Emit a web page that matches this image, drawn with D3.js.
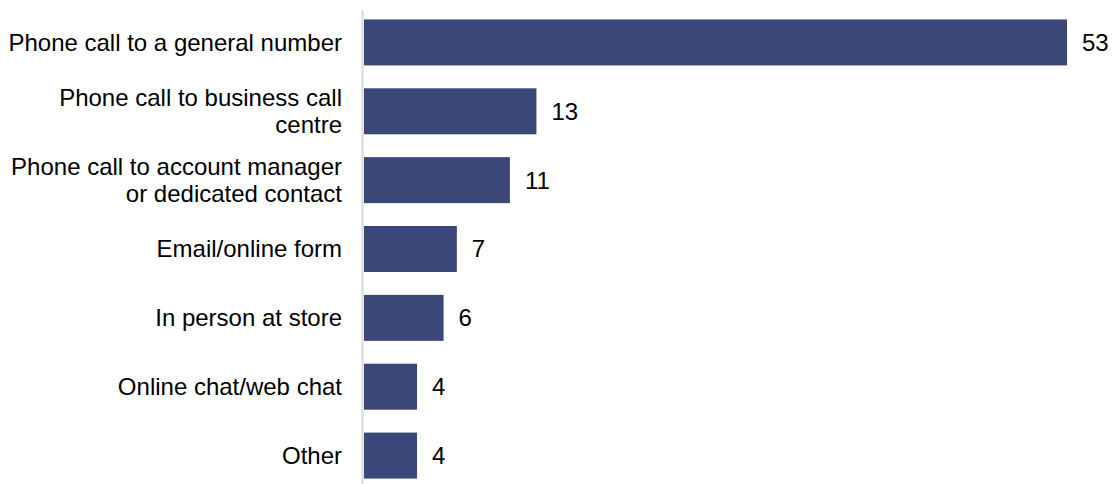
<!DOCTYPE html>
<html>
<head>
<meta charset="utf-8">
<script src="https://cdn.jsdelivr.net/npm/d3@7"></script>
<style>
  html, body { margin: 0; padding: 0; background: #fff; }
  svg { display: block; }
  text { font-family: Arial, "Liberation Sans", sans-serif; fill: #000; }
</style>
</head>
<body>
<svg id="chart" width="1113" height="484"></svg>
<script>
const categories = [
  ["Phone call to a general number"],
  ["Phone call to business call", "centre"],
  ["Phone call to account manager", "or dedicated contact"],
  ["Email/online form"],
  ["In person at store"],
  ["Online chat/web chat"],
  ["Other"]
];
const values = [53, 13, 11, 7, 6, 4, 4];
const ids = categories.map((c, i) => i);

const svg = d3.select("#chart");
const x0 = 364;
const x = d3.scaleLinear().domain([0, 53]).range([x0, 1067]);
const y = d3.scaleBand().domain(ids).range([8, 490]).paddingInner(0.332).paddingOuter(0.166);

// axis line
svg.append("line")
  .attr("x1", 362.5).attr("x2", 362.5)
  .attr("y1", 10).attr("y2", 484)
  .attr("stroke", "#d9d9d9").attr("stroke-width", 2);

svg.selectAll("rect.bar").data(values).join("rect")
  .attr("class", "bar")
  .attr("x", x(0))
  .attr("y", (d, i) => y(i))
  .attr("width", d => x(d) - x(0))
  .attr("height", y.bandwidth())
  .attr("fill", "#3b4679");

svg.selectAll("text.val").data(values).join("text")
  .attr("class", "val")
  .attr("x", d => x(d) + 15)
  .attr("y", (d, i) => y(i) + y.bandwidth() / 2)
  .attr("dy", "0.35em")
  .attr("font-size", 24)
  .text(d => d);

const lh = 27;
categories.forEach((lines, i) => {
  const cy = y(i) + y.bandwidth() / 2;
  const t = svg.append("text")
    .attr("text-anchor", "end")
    .attr("font-size", 24);
  lines.forEach((ln, j) => {
    t.append("tspan")
      .attr("x", 342)
      .attr("y", cy + (j - (lines.length - 1) / 2) * lh)
      .attr("dy", "0.35em")
      .text(ln);
  });
});
</script>
</body>
</html>
